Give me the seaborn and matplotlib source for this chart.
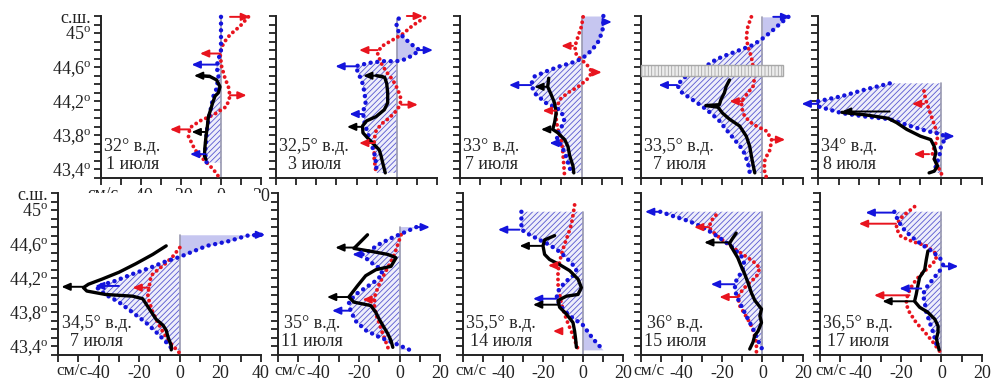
import numpy as np
import matplotlib
matplotlib.use('Agg')
import matplotlib.pyplot as plt
from matplotlib.patches import Rectangle
from matplotlib.ticker import FuncFormatter
import seaborn as sns

# profiles: (speed cm/s, latitude) pairs
t1_blue = [(0,45.19),(0,44.95),(0,44.8),(-1.3,44.69),(-2.2,44.61),(-1.3,44.49),(-2.2,44.35),(-3.8,44.26),(-5.2,44.1),(-6.3,43.98),(-7.2,43.83),(-7.5,43.71),(-8,43.6),(-7.2,43.48)]
t1_red = [(13.7,45.19),(9.5,45.08),(4.5,44.98),(1.2,44.88),(-0.5,44.76),(0.3,44.61),(2,44.47),(3.7,44.37),(4.5,44.26),(2.8,44.14),(-3.8,44.04),(-10.5,43.97),(-15.5,43.89),(-16.3,43.79),(-13,43.63),(-8.8,43.52),(-3.8,43.4),(-1.3,43.32)]
t1_black = [(-10.5,44.5),(-5.5,44.49),(-2.2,44.45),(-0.5,44.37),(-1.3,44.3),(-3,44.26),(-4.2,44.18),(-5.2,44.1),(-6.3,44.02),(-6.8,43.91),(-7.5,43.79),(-8,43.67),(-8.3,43.56),(-7.5,43.52)]
t1_arrows = [('r',45.19,4.5,14.5),('r',44.76,-0.5,-10.5),('r',44.27,4.5,12.8),('r',43.87,-15.5,-25.5),
             ('b',44.63,-2.2,-14.7),('b',43.58,-8,-15.5),('k',44.5,-5.5,-13.5),('k',43.84,-8,-14.7)]

t2_blue = [(1,45.17),(-0.3,45.08),(1.3,45.0),(4.7,44.92),(8.8,44.84),(11.3,44.8),(8,44.74),(3.8,44.69),(0,44.67),(-7,44.67),(-13.7,44.65),(-20.5,44.61),(-18.7,44.51),(-17,44.41),(-16,44.3),(-15.5,44.18),(-16.8,44.07),(-16,43.95),(-14.5,43.83),(-12.8,43.71),(-11.2,43.6),(-10.3,43.48),(-10,43.36)]
t2_red = [(13.8,45.18),(8,45.09),(3,44.99),(-2,44.92),(-7.8,44.84),(-9.5,44.76),(-7.8,44.65),(-5.3,44.55),(-2,44.45),(0.5,44.34),(2.2,44.22),(1.3,44.14),(-1.2,44.06),(-4.5,43.99),(-7.8,43.93),(-10.3,43.85),(-11.2,43.75),(-11.2,43.63),(-11.2,43.52),(-10.3,43.36)]
t2_black = [(-10,44.5),(-6,44.48),(-5,44.41),(-4.5,44.3),(-4.5,44.18),(-6.2,44.1),(-10.3,44.02),(-15,43.97),(-17,43.91),(-16.8,43.83),(-14.5,43.77),(-12,43.71),(-8.7,43.63),(-7.8,43.56),(-7,43.48),(-5.7,43.36)]
t2_arrows = [('r',45.2,5,13),('r',44.8,-9.5,-18.7),('r',44.16,2.2,10.5),('r',43.71,-11.2,-18.7),
             ('b',44.8,11.3,18),('b',44.61,-20.5,-30.5),('b',44.05,-16.8,-23.5),('k',44.5,-7,-16.7),('k',43.9,-17,-24.7)]

t3_blue = [(10.8,45.2),(10.8,45.15),(10.8,45.08),(10,45.0),(8.3,44.9),(5.8,44.82),(2.5,44.74),(-0.8,44.69),(-5,44.65),(-10.8,44.61),(-17.5,44.55),(-23.3,44.49),(-25,44.39),(-22.5,44.28),(-17.5,44.18),(-10.8,44.1),(-8.3,44.0),(-10,43.89),(-12.5,43.79),(-10.8,43.71),(-8.3,43.6),(-6.7,43.48),(-5,43.36)]
t3_red = [(0.8,45.19),(0,45.08),(-1.7,44.96),(-3.3,44.84),(-2.5,44.74),(0.8,44.67),(4.2,44.59),(5,44.53),(2.5,44.45),(-1.7,44.37),(-6.7,44.3),(-10.8,44.22),(-12.5,44.1),(-12.5,43.99),(-11.7,43.87),(-10,43.75),(-9.2,43.6),(-8.7,43.44),(-8.3,43.3)]
t3_black = [(-16.2,44.47),(-16.7,44.37),(-15,44.28),(-13.3,44.18),(-12.5,44.06),(-13.3,43.95),(-14.2,43.87),(-11.7,43.83),(-8.3,43.75),(-6.7,43.67),(-5.8,43.56),(-4.2,43.44),(-3.8,43.36)]
t3_arrows = [('b',45.13,10.8,15),('b',44.39,-25,-35.8),('b',43.71,-10.8,-15.8),('r',44.85,-4.2,-10),
             ('r',44.54,5,10),('r',44.09,-12.5,-19.2),('k',44.37,-16.7,-23.3),('k',43.87,-14.2,-20)]

t4_blue = [(12.8,45.19),(8.7,45.11),(4.5,45.02),(0.3,44.94),(-4.7,44.86),(-11.3,44.8),(-18,44.74),(-23,44.69),(-28,44.61),(-33,44.55),(-38,44.49),(-42.2,44.39),(-39.7,44.3),(-34.7,44.22),(-29.7,44.14),(-25.5,44.06),(-21.3,43.97),(-18,43.87),(-13.8,43.75),(-9.7,43.63),(-7.2,43.48),(-6.3,43.36)]
t4_red = [(-5.5,45.19),(-7.2,45.08),(-8,44.96),(-7.2,44.84),(-5.5,44.72),(-4.7,44.61),(-3.8,44.49),(-4.7,44.37),(-7.2,44.3),(-9.7,44.22),(-10.5,44.14),(-8.8,44.02),(-4.7,43.93),(2,43.85),(4.5,43.75),(3.7,43.63),(1.2,43.52),(0.8,43.4),(2,43.3)]
t4_black = [(-16.3,44.45),(-18,44.37),(-18.8,44.3),(-20.5,44.22),(-21.3,44.16),(-28,44.15),(-22,44.13),(-19.7,44.06),(-16.3,43.99),(-11.3,43.91),(-8,43.79),(-6.3,43.67),(-5.5,43.56),(-4.7,43.46),(-3.8,43.36)]
t4_arrows = [('b',45.19,5.3,13.7),('b',44.39,-42.2,-51.3),('r',44.2,-9.7,-16.3),('r',43.75,4.5,11.2)]
t4_band = (-60, 10, 44.5, 44.62)  # grey band: speed from, speed to, lat from, lat to

t5_blue = [(-25,44.41),(-36.7,44.34),(-48.3,44.26),(-60,44.2),(-60,44.14),(-48.3,44.06),(-36.7,44.02),(-25,43.99),(-15,43.91),(-6.7,43.85),(0.8,43.81),(1.7,43.75),(0,43.67),(-0.8,43.56),(-2.5,43.44),(-3.3,43.36)]
t5_red = [(-8.3,44.32),(-7.5,44.22),(-5.8,44.1),(-4.2,43.99),(-2.5,43.87),(-1.7,43.75),(-3.3,43.67),(-4.2,43.58),(-2.5,43.48),(-0.8,43.4),(0.8,43.32)]
t5_black = [(-48.3,44.07),(-36.7,44.04),(-25.8,44.0),(-21.7,43.95),(-16.7,43.87),(-10,43.79),(-5,43.75),(-3.3,43.67),(-2.5,43.6),(-3.3,43.52),(-1.7,43.44),(-3.3,43.38),(-5.8,43.36)]
t5_arrows = [('b',44.17,-60,-68),('b',43.79,1.7,6.7),('r',44.17,-8.3,-14.2),('r',43.58,-5.8,-13.3),('k',44.08,-25,-48.3)]

b1_blue = [(40,44.71),(33.3,44.7),(23.3,44.63),(13.3,44.58),(5,44.5),(0,44.45),(-6.7,44.4),(-15,44.32),(-23.3,44.25),(-31.7,44.17),(-40,44.11),(-40.8,44.09),(-36.7,44.01),(-30,43.92),(-23.3,43.8),(-16.7,43.68),(-11.7,43.57),(-6.7,43.45),(-3.3,43.36)]
b1_red = [(0,44.56),(-3.3,44.46),(-6.7,44.38),(-10.8,44.3),(-14.2,44.23),(-15,44.11),(-15.8,44.01),(-15,43.92),(-13.3,43.8),(-10.8,43.68),(-8.3,43.57),(-5,43.45),(0,43.32)]
b1_black = [(-6.7,44.58),(-13.3,44.48),(-21.7,44.37),(-30,44.27),(-38.3,44.19),(-45,44.13),(-47.5,44.09),(-45.8,44.05),(-36.7,44.01),(-23.3,43.99),(-18.3,43.96),(-15,43.84),(-11.7,43.72),(-8.3,43.65),(-6.7,43.59),(-5.8,43.51),(-4.2,43.41),(-4.2,43.36)]
b1_arrows = [('b',44.71,36,42),('b',44.11,-30,-41.7),('r',44.09,-15,-23.3),('k',44.1,-47.5,-58.3)]

b2_blue = [(8.3,44.8),(1.7,44.73),(-4.2,44.67),(-10,44.6),(-15,44.52),(-18.3,44.48),(-15,44.4),(-10,44.32),(-8.3,44.25),(-11.7,44.17),(-16.7,44.09),(-21.7,44.01),(-25,43.92),(-24.2,43.82),(-21.7,43.7),(-16.7,43.59),(-10,43.51),(-1.7,43.43),(5,43.36)]
b2_red = [(0.8,44.71),(-0.8,44.6),(-2.5,44.48),(-5,44.36),(-7.5,44.25),(-10,44.13),(-12,44.01),(-12.5,43.9),(-11.7,43.78),(-10,43.67),(-8.3,43.55),(-6.7,43.45),(-5,43.34)]
b2_black = [(-15.8,44.71),(-18.3,44.65),(-22.5,44.55),(-15,44.52),(-5.8,44.48),(-1.7,44.44),(-4.2,44.34),(-11.7,44.3),(-16.7,44.23),(-20.8,44.11),(-25,43.98),(-22.5,43.92),(-14.2,43.88),(-11.7,43.8),(-10,43.72),(-8.3,43.65),(-5.8,43.55),(-4.2,43.47),(-3.3,43.39)]
b2_arrows = [('b',44.8,8.3,15),('b',44.48,-18.3,-23.3),('b',43.82,-24.2,-33.3),('r',43.95,-12.5,-18.3),('k',44.56,-22.5,-31.7),('k',43.98,-25,-35.8)]

b3_blue = [(-30.8,44.98),(-30.8,44.87),(-30.8,44.77),(-26.7,44.71),(-21.7,44.65),(-17.5,44.6),(-13.3,44.54),(-9.2,44.46),(-5.8,44.38),(-3.3,44.3),(-5,44.23),(-9.2,44.15),(-12.5,44.05),(-13.3,43.96),(-10.8,43.86),(-6.7,43.76),(0,43.65),(5,43.49),(10,43.36)]
b3_red = [(-4.2,45.06),(-5,44.94),(-5.8,44.83),(-7.5,44.71),(-9.2,44.6),(-10.8,44.48),(-12,44.36),(-12.5,44.25),(-12.5,44.13),(-11.7,44.01),(-10.8,43.9),(-9.2,43.78),(-7.5,43.67),(-5,43.53),(-2.5,43.37)]
b3_black = [(-14.2,44.7),(-19.2,44.65),(-20,44.58),(-19.2,44.48),(-16.7,44.42),(-11.7,44.36),(-6.7,44.29),(-2.5,44.19),(-0.8,44.09),(-2.5,44.01),(-8.3,43.99),(-12.5,43.94),(-11.7,43.86),(-8.3,43.78),(-5,43.68),(-4.2,43.58),(-3.7,43.49),(-3.3,43.39)]
b3_arrows = [('b',44.77,-31.7,-42.5),('b',43.96,-13.3,-25),('r',44.35,-13.3,-17.5),('r',43.58,-10.8,-15),('k',44.58,-20,-31.7),('k',43.89,-12.5,-25)]

b4_blue = [(-50.5,44.98),(-43,44.92),(-36.3,44.87),(-30.5,44.81),(-24.7,44.73),(-19.7,44.65),(-14.7,44.56),(-10.5,44.46),(-8.8,44.36),(-10.5,44.27),(-13,44.17),(-13.8,44.07),(-12.2,43.96),(-9.7,43.84),(-7.2,43.72),(-4.7,43.61),(-2.2,43.47),(0,43.36)]
b4_red = [(-23,44.94),(-25.5,44.87),(-26.3,44.79),(-23,44.71),(-18.8,44.63),(-14.7,44.56),(-9.7,44.48),(-4.7,44.4),(-1.3,44.32),(-3,44.22),(-6.3,44.15),(-9.7,44.07),(-12.2,43.98),(-11.3,43.88),(-8.8,43.78),(-6.3,43.68),(-4.7,43.59),(-3,43.45),(-3,43.32)]
b4_black = [(-13,44.73),(-14.7,44.67),(-16.3,44.61),(-14.7,44.54),(-12.2,44.44),(-10.5,44.34),(-8.8,44.25),(-7.2,44.15),(-5.5,44.03),(-3.8,43.94),(-0.5,43.84),(-1.3,43.76),(-0.5,43.68),(-2.2,43.58),(-3.8,43.53),(-4.7,43.45),(-6.3,43.37)]
b4_arrows = [('b',44.98,-50.5,-58),('b',44.13,-13.8,-25.5),('r',44.8,-26.3,-33.8),('r',43.98,-12.2,-21.3),('k',44.62,-16.3,-28.8)]

b5_blue = [(-23.3,44.98),(-21.7,44.89),(-19.2,44.79),(-15,44.69),(-10,44.6),(-5,44.52),(-0.8,44.44),(0.8,44.36),(-0.8,44.29),(-4.2,44.19),(-7.5,44.09),(-9.2,44.01),(-8.3,43.92),(-7.5,43.8),(-5.8,43.68),(-4.2,43.57),(-2.8,43.45),(-1.7,43.36)]
b5_red = [(-13.3,45.04),(-17.5,44.96),(-20.8,44.89),(-22.5,44.79),(-20,44.69),(-14.2,44.63),(-7.5,44.58),(-3.3,44.5),(-2.5,44.42),(-6.7,44.32),(-10.8,44.23),(-14.2,44.13),(-16.7,44.01),(-17.5,43.9),(-15.8,43.8),(-12.5,43.68),(-8.3,43.57),(-4.2,43.45),(-0.8,43.34)]
b5_black = [(-6.7,44.52),(-7.5,44.42),(-8.3,44.3),(-10.8,44.21),(-11.7,44.11),(-12.5,44.01),(-13.3,43.93),(-10.8,43.86),(-6.7,43.8),(-3.3,43.72),(-1.7,43.64),(-1.7,43.57),(-2.5,43.49),(-1.7,43.41),(-1.2,43.36)]
b5_arrows = [('b',44.97,-23.3,-37.5),('b',44.34,0.8,8.3),('b',44.08,-10,-20.8),('r',44.84,-22.5,-40.8),('r',44.0,-15.8,-33.3),('k',43.93,-13.3,-29.2)]

lon_labels = ['32° в.д.', '32,5° в.д.', '33° в.д.', '33,5° в.д.', '34° в.д.',
              '34,5° в.д.', '35° в.д.', '35,5° в.д.', '36° в.д.', '36,5° в.д.']
date_labels = ['1 июля', '3 июля', '7 июля', '7 июля', '8 июля',
               '7 июля', '11 июля', '14 июля', '15 июля', '17 июля']
lat_ticks = [43.4, 43.8, 44.2, 44.6, 45.0]
lat_tick_labels = ['43,4', '43,8', '44,2', '44,6', '45']

BLUE = '#1414dc'
RED = '#e8141e'
COLORS = {'b': BLUE, 'r': RED, 'k': 'black'}

sns.set_style('ticks')
plt.rcParams['font.family'] = ['Liberation Serif', 'DejaVu Serif']
plt.rcParams['mathtext.fontset'] = 'custom'
plt.rcParams['mathtext.rm'] = 'Liberation Serif'
plt.rcParams['hatch.linewidth'] = 0.6

W, H = 994, 383
fig = plt.figure(figsize=(W / 100, H / 100), dpi=100)

# axes boxes in pixels: left, right, top, bottom
boxes = [(101, 261, 16, 178), (276, 437, 16, 178), (460, 622, 16, 178), (641, 803, 16, 178), (818, 982, 16, 178),
         (58, 261, 193, 355), (278, 440, 193, 355), (463, 623, 193, 355), (641, 803, 193, 355), (820, 982, 193, 355)]
panels = [(t1_blue, t1_red, t1_black, t1_arrows), (t2_blue, t2_red, t2_black, t2_arrows),
          (t3_blue, t3_red, t3_black, t3_arrows), (t4_blue, t4_red, t4_black, t4_arrows),
          (t5_blue, t5_red, t5_black, t5_arrows), (b1_blue, b1_red, b1_black, b1_arrows),
          (b2_blue, b2_red, b2_black, b2_arrows), (b3_blue, b3_red, b3_black, b3_arrows),
          (b4_blue, b4_red, b4_black, b4_arrows), (b5_blue, b5_red, b5_black, b5_arrows)]
unit_x = [-59, None, None, None, None, -53, -54, -56, -56, -54.5]


def dotted(ax, pts, color, lw, gap):
    a = np.array(pts)
    sns.lineplot(x=a[:, 0], y=a[:, 1], sort=False, estimator=None, ax=ax, color=color,
                 lw=lw, linestyle=(0, (0.01, gap)), dash_capstyle='round', clip_on=False, zorder=4)


for i, (box, (blue, red, black, arrows)) in enumerate(zip(boxes, panels)):
    l, r, t, b = box
    ax = fig.add_axes([l / W, 1 - b / H, (r - l) / W, (b - t) / H])
    xmax = 40 if i == 5 else 20
    ax.set_xlim(-60, xmax)
    ax.set_ylim(43.3, 45.2)

    bl = np.array(blue)
    ax.fill_betweenx(bl[:, 1], bl[:, 0], 0, where=bl[:, 0] <= 0, interpolate=True,
                     facecolor='#eeeefa', edgecolor='#5858d0', hatch='//////', lw=0, zorder=1)
    ax.fill_betweenx(bl[:, 1], bl[:, 0], 0, where=bl[:, 0] >= 0, interpolate=True,
                     facecolor='#c6c6f0', lw=0, zorder=1)
    ax.plot([0, 0], [43.3, bl[:, 1].max()], color='#9898b0', lw=1.2, zorder=2)

    if i == 3:
        x0, x1, y0, y1 = t4_band
        ax.add_patch(Rectangle((x0, y0), x1 - x0, y1 - y0, facecolor='#ececec', edgecolor='#a8a8a8',
                               hatch='|||||', lw=1, clip_on=False, zorder=6))

    dotted(ax, red, RED, 2.8, 1.4)
    dotted(ax, blue, BLUE, 3.2, 1.5)
    bk = np.array(black)
    sns.lineplot(x=bk[:, 0], y=bk[:, 1], sort=False, estimator=None, ax=ax, color='black',
                 lw=2.4, clip_on=False, zorder=5)

    for c, y, xa, xb in arrows:
        ax.annotate('', xy=(xb, y), xytext=(xa, y), annotation_clip=False, zorder=7,
                    arrowprops=dict(arrowstyle='-|>,head_length=0.5,head_width=0.22', color=COLORS[c],
                                    lw=1.4, shrinkA=0, shrinkB=0))

    for side in ['top', 'right']:
        ax.spines[side].set_visible(False)
    for side in ['left', 'bottom']:
        ax.spines[side].set_linewidth(1.4)
        ax.spines[side].set_color('#222222')

    ax.set_xticks(np.arange(-60, xmax + 1, 10))
    ax.set_yticks(np.round(np.arange(43.3, 45.21, 0.1), 1))
    ax.tick_params(direction='out', length=5, width=1.3, labelsize=13, pad=2, colors='#222222')
    show_x = i == 0 or i >= 5
    show_y = i in (0, 5)
    ax.xaxis.set_major_formatter(FuncFormatter(
        lambda v, p, s=show_x: ('%d' % v if s and abs(v) % 20 == 0 and v > -60 else '')))

    def ylab(v, p, s=show_y):
        if not s:
            return ''
        if abs(v - 45.2) < 1e-6:
            return 'с.ш.'
        for tv, tl in zip(lat_ticks, lat_tick_labels):
            if abs(v - tv) < 1e-6:
                return tl + r'$^{\rm o}$'
        return ''
    ax.yaxis.set_major_formatter(FuncFormatter(ylab))
    ax.set_xlabel('')
    ax.set_ylabel('')

    if unit_x[i] is not None:
        ax.text(unit_x[i], -0.05, 'см/с', transform=ax.get_xaxis_transform(),
                ha='center', va='top', fontsize=12.5)

    ax.text(0.02, 0.03, lon_labels[i] + '\n' + date_labels[i], transform=ax.transAxes,
            ha='left', va='bottom', fontsize=13, multialignment='center', linespacing=1.05, zorder=8)

fig.savefig('out.png', dpi=100)
